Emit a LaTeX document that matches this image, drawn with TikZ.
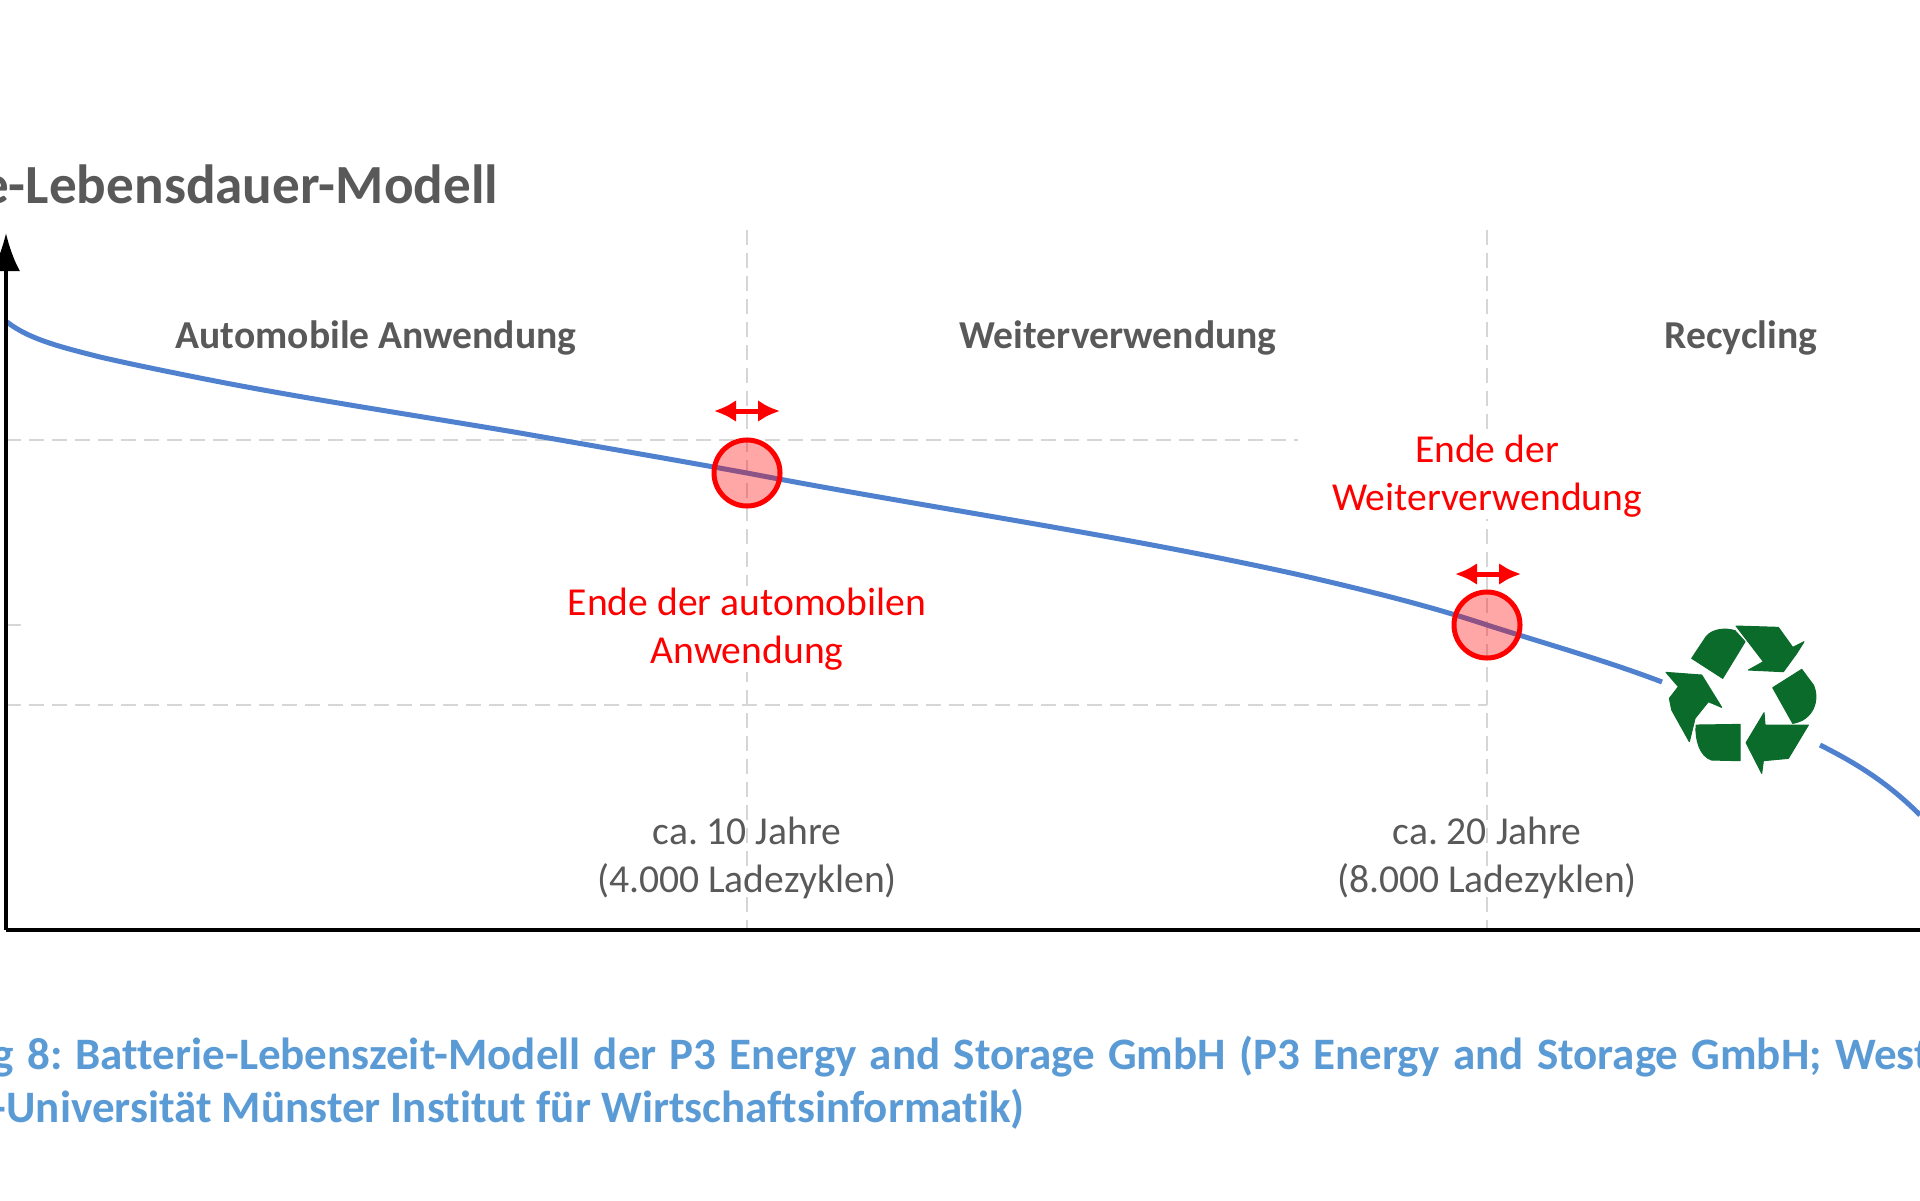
\documentclass[tikz,border=0pt]{standalone}
\usepackage{fontspec}
\setmainfont{Carlito}[Ligatures={NoCommon}]
\definecolor{txtgray}{HTML}{595959}
\definecolor{capblue}{HTML}{5B9BD5}
\definecolor{curveblue}{HTML}{4F81CF}
\definecolor{dashgray}{HTML}{D6D6D6}
\definecolor{recgreen}{HTML}{0B6B2B}
\tikzset{every picture/.style={line width=0.75pt}}
\usetikzlibrary{arrows.meta}
\tikzset{
  areatxt/.style={text=txtgray,font=\fontsize{19.8}{24}\selectfont\bfseries,inner sep=0pt},
  yeartxt/.style={text=txtgray,font=\fontsize{19.8}{24}\selectfont\frenchspacing,align=center,inner sep=0pt},
  endtxt/.style={text=red,font=\fontsize{19.8}{24}\selectfont,align=center,inner sep=1pt,fill=white},
  captxt/.style={text=capblue,font=\fontsize{22.5}{26}\selectfont\bfseries\frenchspacing,inner sep=0pt,anchor=west},
  helpline/.style={dashgray,line width=1pt,dash pattern=on 7.5pt off 4pt},
  endmark/.style={circle,draw=red,line width=2.5pt,fill=red,fill opacity=0.35,draw opacity=1,minimum size=33pt,inner sep=0pt},
  rangearrow/.style={red,line width=2.5pt,{Latex[length=11pt,width=11pt]}-{Latex[length=11pt,width=11pt]}},
  recpart/.style={fill=recgreen,draw=recgreen,line width=0.5pt,line join=round},
  curveline/.style={curveblue,line width=2.5pt},
}

\begin{document}
\begin{tikzpicture}[x=0.5pt,y=0.5pt,yscale=-1]
\useasboundingbox (0,0) rectangle (1920,1200);

% Helper lines
\coordinate (ytop) at (6,233);
\coordinate (orig) at (6,930);
\coordinate (xend) at (1920,930);
\coordinate (upA) at (747,230);
\coordinate (upB) at (1487,230);
\coordinate (downA) at (747,930);
\coordinate (downB) at (1487,930);
\coordinate (levA) at (6,440);
\coordinate (levAend) at (1298,440);
\coordinate (levB) at (6,705);
\coordinate (levBend) at (1487,705);
\coordinate (tickA) at (6,625);
\coordinate (tickB) at (22,625);
\draw [helpline] (upA) -- (downA);
\draw [helpline] (upB) -- (downB);
\draw [helpline] (levA) -- (levAend);
\draw [helpline] (levB) -- (levBend);
\draw [helpline] (tickA) -- (tickB);

% Curve
\draw [curveline] (7,322) .. controls (30,340) and (65,348) .. (100,357)
  .. controls (135,365) and (165,371) .. (200,378)
  .. controls (300,398) and (420,416) .. (520,433)
  .. controls (600,447) and (670,459) .. (747,473)
  .. controls (930,508) and (1120,535) .. (1300,575)
  .. controls (1365,590) and (1430,606) .. (1487,625)
  .. controls (1550,645) and (1610,662) .. (1662,682);
\draw [curveline] (1820,745) .. controls (1860,765) and (1890,785) .. (1920,815);

% Axes
\draw [line width=2pt,-{Latex[length=19pt,width=14pt]}] (orig) -- (ytop);
\draw [line width=2pt] (orig) -- (xend);

% Marks
\node [endmark] (markA) at (747,473) {};
\node [endmark] (markB) at (1487,625) {};
\coordinate (arrAl) at (714,411);
\coordinate (arrAr) at (780,411);
\coordinate (arrBl) at (1455,574);
\coordinate (arrBr) at (1521,574);
\draw [rangearrow] (arrAl) -- (arrAr);
\draw [rangearrow] (arrBl) -- (arrBr);

% Recycling symbol
\begin{scope}[shift={(1600,590)},x=0.1667pt,y=0.1667pt]
\filldraw [recpart] (275,205) -- (318,140) .. controls (335,118) and (375,112) .. (405,122) -- (435,155) -- (368,265) -- cycle;
\filldraw [recpart] (408,108) -- (535,112) -- (578,172) -- (612,155) -- (590,190) -- (550,245) -- (445,240) -- (490,215) -- cycle;
\filldraw [recpart] (518,293) -- (605,238) -- (640,285) .. controls (660,330) and (640,390) .. (578,400) -- cycle;
\filldraw [recpart] (625,405) -- (565,505) -- (490,512) -- (485,550) -- (438,458) -- (492,368) -- (495,405) -- cycle;
\filldraw [recpart] (288,405) -- (420,403) -- (420,512) -- (335,510) .. controls (300,500) and (285,450) .. (288,405) -- cycle;
\filldraw [recpart] (198,247) -- (305,255) -- (365,352) -- (325,335) -- (285,385) -- (268,455) -- (215,360) -- (208,325) -- (235,290) -- cycle;
\end{scope}

% Text Nodes
\node [text=txtgray,font=\fontsize{27.6}{30}\selectfont\bfseries,anchor=east,inner sep=0pt] (title) at (499,184) {e-Lebensdauer-Modell};
\node [areatxt] (areaA) at (376,338) {Automobile Anwendung};
\node [areatxt] (areaB) at (1118,338) {Weiterverwendung};
\node [areatxt] (areaC) at (1741,338) {Recycling};
\node [endtxt] (endA) at (747,629) {Ende der automobilen\\Anwendung};
\node [endtxt] (endB) at (1487,476) {Ende der\\Weiterverwendung};
\node [yeartxt] (yearA) at (747,858) {ca. 10 Jahre\\(4.000 Ladezyklen)};
\node [yeartxt] (yearB) at (1487,858) {ca. 20 Jahre\\(8.000 Ladezyklen)};
\node [captxt] (capA) at (-8,1057) {\spaceskip=6.6pt g 8: Batterie-Lebenszeit-Modell der P3 Energy and Storage GmbH (P3 Energy and Storage GmbH; West};
\node [captxt] (capB) at (-8,1109) {-Universität Münster Institut für Wirtschaftsinformatik)};
\end{tikzpicture}
\end{document}
